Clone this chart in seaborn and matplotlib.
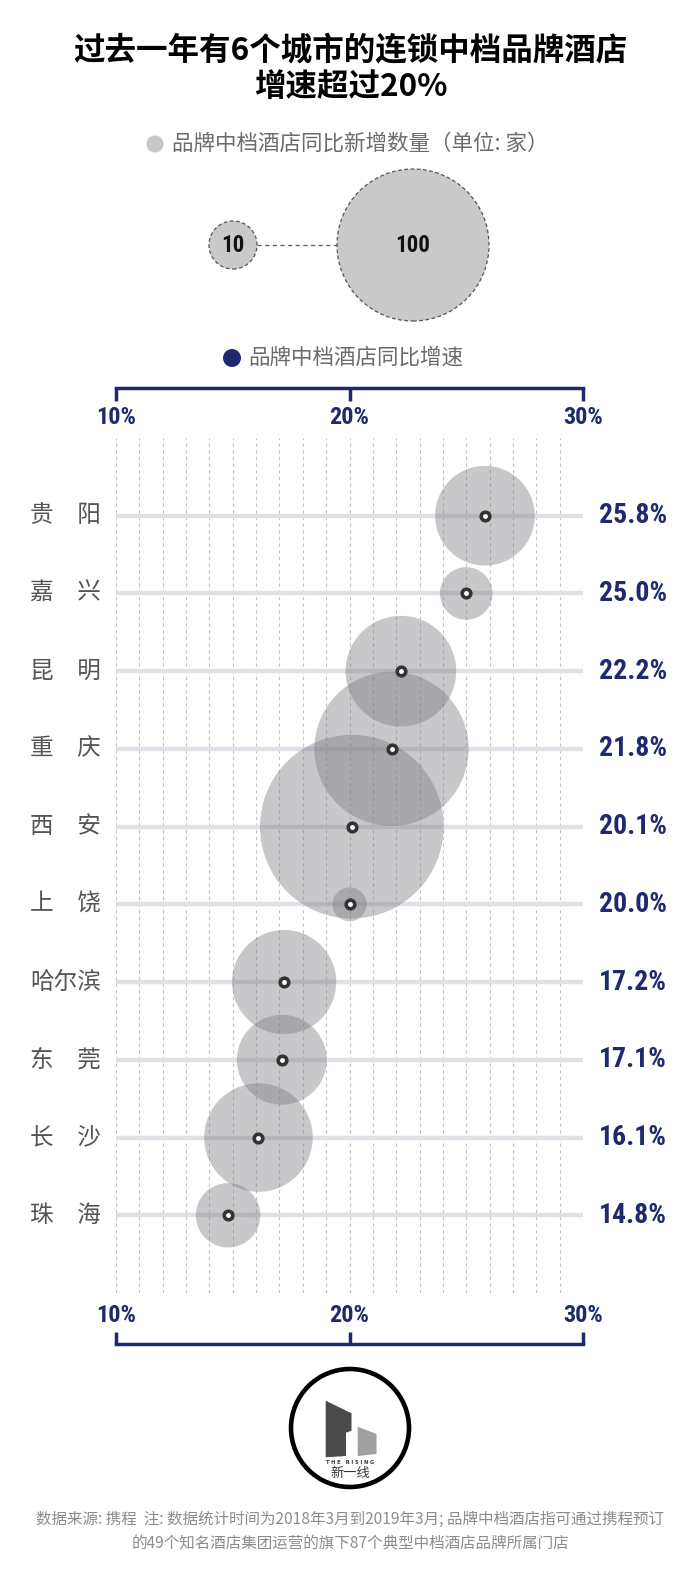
import numpy as np
import pandas as pd
import matplotlib
matplotlib.use("Agg")
import matplotlib.pyplot as plt
import matplotlib.transforms as mtransforms
from matplotlib import font_manager as fm
from matplotlib.patches import Circle, Polygon
import seaborn as sns

# ---------------- data ----------------
cities = ['贵　阳', '嘉　兴', '昆　明', '重　庆', '西　安', '上　饶', '哈尔滨', '东　莞', '长　沙', '珠　海']
rates = [25.8, 25.0, 22.2, 21.8, 20.1, 20.0, 17.2, 17.1, 16.1, 14.8]
counts = [43, 12, 53, 103, 146, 5, 47, 35, 51, 18]
legend_counts = [10, 100]
x_ticks = [10, 20, 30]
x_ticklabels = ['10%', '20%', '30%']

title_lines = ['过去一年有6个城市的连锁中档品牌酒店', '增速超过20%']
legend_size_text = '品牌中档酒店同比新增数量（单位: 家）'
legend_rate_text = '品牌中档酒店同比增速'
footer_lines = ['数据来源: 携程  注: 数据统计时间为2018年3月到2019年3月; 品牌中档酒店指可通过携程预订',
                '的49个知名酒店集团运营的旗下87个典型中档酒店品牌所属门店']

# ---------------- style ----------------
sns.set_style('white')
plt.rcParams['font.family'] = ['Noto Sans CJK SC', 'DejaVu Sans']


def has_font(name):
    try:
        fm.findfont(fm.FontProperties(family=name), fallback_to_default=False)
        return True
    except Exception:
        return False


# condensed numeric font if available; sizes: (rate labels, tick labels, legend numbers)
candidates = [
    ('Liberation Sans Narrow', (20, 18, 17)),
    ('Roboto Condensed', (20, 17.5, 16.5)),
    ('DejaVu Sans Condensed', (17, 15, 14.5)),
    ('Liberation Sans', (17.5, 15.5, 15)),
]
NUM_FONT, NUM_SIZES = 'Liberation Sans', (17.5, 15.5, 15)
for name, sizes in candidates:
    if has_font(name):
        NUM_FONT, NUM_SIZES = name, sizes
        break

NAVY = '#1f2a6e'
W, H, DPI = 700, 1582, 100
K = 7.6  # px radius per sqrt(count)
VMAX = 150


def size_pts2(v):
    return (2 * K * np.sqrt(v) * 72 / DPI) ** 2


def fr(x0, y0, x1, y1):
    return [x0 / W, 1 - y1 / H, (x1 - x0) / W, (y1 - y0) / H]


fig = plt.figure(figsize=(W / DPI, H / DPI), dpi=DPI)
fig.patch.set_facecolor('white')

# overlay in pixel coordinates for decorations
ov = fig.add_axes([0, 0, 1, 1])
ov.set_xlim(0, W)
ov.set_ylim(H, 0)
ov.axis('off')

# title
ov.text(351, 51, title_lines[0], ha='center', va='center', fontsize=22.7, fontweight='bold', color='black')
ov.text(351, 87, title_lines[1], ha='center', va='center', fontsize=22.7, fontweight='bold', color='black')

# legend 1
ov.add_patch(Circle((155, 144), 8.5, color='#c8c8c8', lw=0))
ov.text(172, 144, legend_size_text, ha='left', va='center', fontsize=15.5, color='#6b6b6b')
leg_x = [233, 413]
ov.plot([233 + K * np.sqrt(10), 413 - K * np.sqrt(100)], [245, 245], color='#666666', lw=1, ls=(0, (3, 2.5)))
ov.scatter(leg_x, [245, 245], s=[size_pts2(v) for v in legend_counts], facecolor='#c9c9c9',
           edgecolor='#555555', linewidths=0.9, linestyles=(0, (3, 2)), zorder=3)
for x, v in zip(leg_x, legend_counts):
    ov.text(x, 245, str(v), ha='center', va='center', fontsize=NUM_SIZES[2], fontweight='bold',
            family=NUM_FONT, color='#111111', zorder=4)

# legend 2
ov.add_patch(Circle((232, 358), 9, color=NAVY, lw=0))
ov.text(248, 358, legend_rate_text, ha='left', va='center', fontsize=15.5, color='#6b6b6b')

# ---------------- main chart ----------------
n = len(cities)
ax = fig.add_axes(fr(116, 438, 583, 1293))
ax.set_facecolor('none')
df = pd.DataFrame({'rate': rates, 'pos': np.arange(n), 'count': counts, 'city': cities})

ax.hlines(df['pos'], 10, 30, color='#e2dfe6', lw=3.2, zorder=1)
sns.scatterplot(data=df, x='rate', y='pos', size='count', sizes=(0, size_pts2(VMAX)),
                size_norm=(0, VMAX), color='#7d7b82', alpha=0.42, linewidth=0, legend=False,
                ax=ax, zorder=3, clip_on=False)
sns.scatterplot(data=df, x='rate', y='pos', s=38, color='white', edgecolor='#333333',
                linewidth=2.6, legend=False, ax=ax, zorder=4, clip_on=False)

ax.set_xlim(10, 30)
ax.set_ylim(n, -1)
ax.set_xticks(np.arange(10, 31))
ax.set_yticks([])
ax.tick_params(length=0, labelbottom=False, labelleft=False)
ax.grid(axis='x', color='#c2c2c2', lw=0.8, ls=(0, (3, 3)))
ax.grid(axis='y', visible=False)
ax.set_axisbelow(True)
ax.set_xlabel('')
ax.set_ylabel('')
for s in ax.spines.values():
    s.set_visible(False)

blend = mtransforms.blended_transform_factory(fig.transFigure, ax.transData)
for i, (c, r) in enumerate(zip(cities, rates)):
    ax.text(30 / W, i, c, transform=blend, ha='left', va='center', fontsize=17, color='#555555')
    ax.text(633 / W, i, f'{r:.1f}%', transform=blend, ha='center', va='center',
            fontsize=NUM_SIZES[0], fontweight='bold', family=NUM_FONT, color=NAVY)

# top scale
axt = fig.add_axes(fr(116, 387, 583, 388))
axt.set_facecolor('none')
axt.set_xlim(10, 30)
axt.set_yticks([])
for k, s in axt.spines.items():
    s.set_visible(k == 'bottom')
axt.spines['bottom'].set_color(NAVY)
axt.spines['bottom'].set_linewidth(2.5)
axt.set_xticks(x_ticks)
axt.set_xticklabels(x_ticklabels, fontsize=NUM_SIZES[1], fontweight='bold', family=NUM_FONT, color=NAVY)
axt.tick_params(axis='x', direction='out', length=9, width=2.5, color=NAVY, pad=4,
                bottom=True, top=False, labelbottom=True)

# bottom scale
axb = fig.add_axes(fr(116, 1344, 583, 1345))
axb.set_facecolor('none')
axb.set_xlim(10, 30)
axb.set_yticks([])
for k, s in axb.spines.items():
    s.set_visible(k == 'top')
axb.spines['top'].set_color(NAVY)
axb.spines['top'].set_linewidth(2.5)
axb.xaxis.set_ticks_position('top')
axb.set_xticks(x_ticks)
axb.set_xticklabels(x_ticklabels, fontsize=NUM_SIZES[1], fontweight='bold', family=NUM_FONT, color=NAVY)
axb.tick_params(axis='x', direction='out', length=9, width=2.5, color=NAVY, pad=3,
                labeltop=True, labelbottom=False, top=True, bottom=False)

# ---------------- logo ----------------
cx, cy = 350, 1428
ov.add_patch(Circle((cx, cy), 59, fill=False, lw=3.3, ec='black'))
dy = 0
dark = [(325.7, 1400.7), (351.5, 1413.3), (351.5, 1430.7), (346, 1432.7), (346, 1456), (325.7, 1457.3)]
light = [(357.7, 1426.7), (376.5, 1434), (376.5, 1454), (357.7, 1456)]
ov.add_patch(Polygon([(x, y + dy) for x, y in dark], closed=True, color='#4a4a4a', lw=0))
ov.add_patch(Polygon([(x, y + dy) for x, y in light], closed=True, color='#a0a0a0', lw=0))
ov.text(350, 1462, 'T H E   R I S I N G', ha='center', va='center', fontsize=3.6, fontweight='bold',
        color='#333333', family=['DejaVu Sans'])
ov.text(350, 1473, '新一线', ha='center', va='center', fontsize=9.5, color='#333333')

# ---------------- footer ----------------
ov.text(350, 1519, footer_lines[0], ha='center', va='center', fontsize=11.2, color='#8c8c8c')
ov.text(350, 1544, footer_lines[1], ha='center', va='center', fontsize=11.2, color='#8c8c8c')

fig.savefig('out.png', dpi=DPI, facecolor='white')
